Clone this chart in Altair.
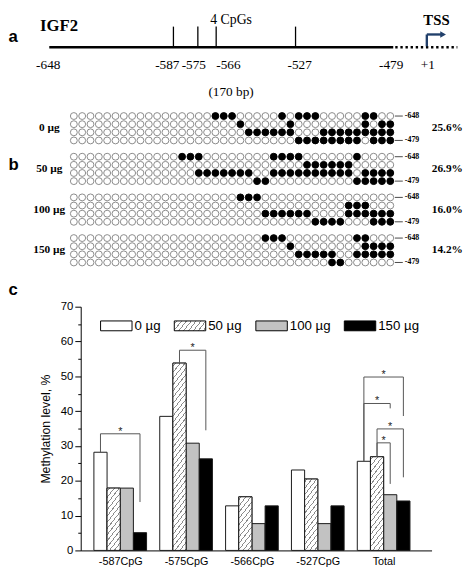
import json
import math
import altair as alt
import pandas as pd

# ------------------------------------------------------------------ data
# panel c: methylation level (%) per CpG site and dose
cpg_labels = ["-587CpG", "-575CpG", "-566CpG", "-527CpG", "Total"]
doses = ["0 µg", "50 µg", "100 µg", "150 µg"]
level_0ug = [28.2, 38.5, 12.8, 23.1, 25.6]
level_50ug = [17.9, 53.8, 15.4, 20.5, 26.9]
level_100ug = [17.9, 30.8, 7.7, 7.7, 16.0]
level_150ug = [5.1, 26.3, 12.8, 12.8, 14.2]

# significance brackets: group, left dose, right dose, top, left end, right end
brk_group = [0, 1, 4, 4, 4, 4]
brk_left = [0, 1, 0, 0, 1, 1]
brk_right = [3, 3, 3, 2, 3, 2]
brk_top = [33.5, 57.5, 49.8, 42.2, 34.9, 30.9]
brk_left_end = [28.2, 53.8, 25.6, 25.6, 26.9, 26.9]
brk_right_end = [13.9, 34.5, 38.6, 40.8, 21.0, 19.1]

# panel a: IGF2 region
region = [-648, -479]
cpg_sites = [-587, -575, -566, -527]
site_labels = ["-648", "-587", "-575", "-566", "-527", "-479", "+1"]
site_label_pos = [-648.5, -590, -577, -560, -525, -480, -462]
upstream_gap = [-478, -447.5]          # dotted part, not to scale
tss_stem, tss_tip = -462.5, -454.5

# panel b: methylated clones (column indices of filled circles), 4 rows per dose
n_clones = 39
methylated = {
    "0 µg": [[17, 18, 19, 25, 27, 28, 29, 35, 36],
             [20, 26, 35, 37, 38],
             [21, 22, 23, 24, 25, 26, 30, 31, 32, 33, 34, 35, 36, 37, 38],
             [27, 28, 29, 30, 31, 32, 33, 34, 36, 37, 38]],
    "50 µg": [[13, 14, 15, 24, 25, 26, 27, 34],
              [28, 29, 30, 31, 32, 33],
              [15, 16, 17, 18, 19, 20, 21, 24, 25, 26, 27, 28, 29, 30, 31, 32, 33, 35, 36, 37, 38],
              [22, 23, 34, 35, 36, 37, 38]],
    "100 µg": [[20, 21, 22],
               [33, 34, 35],
               [23, 24, 25, 26, 27, 28, 33, 34, 35, 36, 37, 38],
               [29, 30, 31, 32, 36, 37, 38]],
    "150 µg": [[23, 24, 25, 34, 35],
               [26, 35, 36, 37, 38],
               [27, 28, 29, 30, 31, 34, 35, 36, 37, 38],
               [31, 32]],
}
overall_pct = ["25.6%", "26.9%", "16.0%", "14.2%"]

# ------------------------------------------------------------------ layout
PLOT_W, PLOT_H = 357, 248
OX, OY = 82, 307          # page position of the bar chart's plot origin


def rx(px):
    return px - OX


def ry(py):
    return py - OY


SERIF = "Liberation Serif"
SANS = "Liberation Sans"
X_DOMAIN = [-0.6, 4.728]
BAR_W = 0.2
PX_X = PLOT_W / (X_DOMAIN[1] - X_DOMAIN[0])
PX_Y = PLOT_H / 70.0


def hatch(w, h, theta=52, spacing=3.9, lw=0.85, col="#8c8c8c"):
    s = math.sin(math.radians(theta))
    c = math.cos(math.radians(theta))
    L = w * s + h * c
    k = L / ((w * s) ** 2 + (h * c) ** 2)
    stops = [{"offset": 0, "color": "#ffffff"}]
    center = spacing / 2
    while center < L:
        a = max(0.0, (center - lw / 2) / L)
        b = min(1.0, (center + lw / 2) / L)
        stops += [{"offset": round(a, 5), "color": "#ffffff"},
                  {"offset": round(a, 5), "color": col},
                  {"offset": round(b, 5), "color": col},
                  {"offset": round(b, 5), "color": "#ffffff"}]
        center += spacing
    stops.append({"offset": 1, "color": "#ffffff"})
    return {"gradient": "linear", "x1": 0, "y1": 0,
            "x2": round(k * w * s, 5), "y2": round(k * h * c, 5), "stops": stops}


layers = []

# ------------------------------------------------------------------ panel c
levels = [level_0ug, level_50ug, level_100ug, level_150ug]
bar_rows = []
for gi, lab in enumerate(cpg_labels):
    for si, dose in enumerate(doses):
        bar_rows.append({"gi": gi, "si": si, "cpg": lab, "dose": dose,
                         "level": levels[si][gi]})
bars_df = pd.DataFrame(bar_rows)

xc = alt.Scale(domain=X_DOMAIN, nice=False, zero=False)
yc = alt.Scale(domain=[0, 70], nice=False)

label_js = "[" + ",".join("'%s'" % l for l in cpg_labels) + "]"
x_axis = alt.Axis(values=list(range(len(cpg_labels))),
                  labelExpr=f"{label_js}[datum.value]", ticks=False, grid=False,
                  title=None, domainColor="black", domainWidth=1, labelFont=SANS,
                  labelFontSize=11, labelColor="black", labelPadding=5,
                  labelFlush=False, labelOverlap=False)
y_axis = alt.Axis(title="Methylation level, %", values=list(range(0, 71, 5)),
                  labelExpr="datum.value % 10 === 0 ? datum.label : ''",
                  tickSize={"condition": {"test": "datum.value % 10 === 0", "value": 6},
                            "value": 3},
                  tickColor="black", domainColor="black", grid=False,
                  labelFont=SANS, labelFontSize=11.5, labelColor="black",
                  labelPadding=2, titleFont=SANS, titleFontSize=12.5,
                  titleFontWeight="normal", titleColor="black", titlePadding=8)

swatch_expr = json.dumps(hatch(32, 10))
legend = alt.Legend(orient="none", legendX=19.7, legendY=3, direction="horizontal",
                    title=None, symbolType="M-1,-0.3125H1V0.3125H-1Z", symbolSize=1024,
                    symbolStrokeColor="black", symbolStrokeWidth=1, symbolOpacity=1,
                    labelFont=SANS, labelFontSize=13.5, labelColor="black",
                    labelOffset=2, columnPadding=11, padding=0, gridAlign="none",
                    labelLimit=0)

xcalc0 = "datum.gi + (datum.si - 2) * %s" % BAR_W
xcalc1 = "datum.gi + (datum.si - 1) * %s" % BAR_W

bars = alt.Chart(bars_df).transform_calculate(x0=xcalc0, x1=xcalc1).mark_bar(
    stroke="#1a1a1a", strokeWidth=1).encode(
    x=alt.X("x0:Q", scale=xc, axis=x_axis),
    x2="x1:Q",
    y=alt.Y("level:Q", scale=yc, axis=y_axis),
    y2=alt.datum(0),
    fill=alt.Fill("dose:N", scale=alt.Scale(
        domain=doses, range=["#ffffff", {"expr": swatch_expr}, "#c2c2c2", "#000000"]),
        legend=legend),
)
layers.append(bars)

hatch_rows = []
for gi, v in enumerate(level_50ug):
    hatch_rows.append({"gi": gi, "si": 1, "level": v,
                       "grad": hatch(BAR_W * PX_X, v * PX_Y)})
hatch_layer = alt.Chart(alt.Data(values=hatch_rows)).transform_calculate(
    x0=xcalc0, x1=xcalc1).mark_bar(stroke="#1a1a1a", strokeWidth=1).encode(
    x=alt.X("x0:Q", scale=xc, axis=None),
    x2="x1:Q",
    y=alt.Y("level:Q", scale=yc, axis=None),
    y2=alt.datum(0),
    fill=alt.Fill(field="grad", type="nominal", scale=None, legend=None),
)
layers.append(hatch_layer)

brk_df = pd.DataFrame({"group": brk_group, "left": brk_left, "right": brk_right,
                       "top": brk_top, "lend": brk_left_end, "rend": brk_right_end})
brk = alt.Chart(brk_df).transform_calculate(
    xl="datum.group + (datum.left - 1.5) * %s" % BAR_W,
    xr="datum.group + (datum.right - 1.5) * %s" % BAR_W,
).transform_calculate(xm="(datum.xl + datum.xr) / 2")
BRK_COL = "#555555"
layers.append(brk.mark_rule(color=BRK_COL, strokeWidth=1).encode(
    x=alt.X("xl:Q", scale=xc, axis=None), y=alt.Y("top:Q", scale=yc, axis=None),
    y2="lend:Q"))
layers.append(brk.mark_rule(color=BRK_COL, strokeWidth=1).encode(
    x=alt.X("xr:Q", scale=xc, axis=None), y=alt.Y("top:Q", scale=yc, axis=None),
    y2="rend:Q"))
layers.append(brk.mark_rule(color=BRK_COL, strokeWidth=1).encode(
    x=alt.X("xl:Q", scale=xc, axis=None), x2="xr:Q",
    y=alt.Y("top:Q", scale=yc, axis=None)))
layers.append(brk.mark_text(text="*", font=SANS, fontSize=11, color="#222222",
                            baseline="alphabetic", dy=1).encode(
    x=alt.X("xm:Q", scale=xc, axis=None), y=alt.Y("top:Q", scale=yc, axis=None)))

# ------------------------------------------------------------------ panel a
xa = alt.Scale(domain=region, range=[rx(50), rx(400)], nice=False, zero=False)
LINE_Y = ry(43)

layers.append(alt.Chart(pd.DataFrame({"s": [region[0]], "e": [region[1]]})).mark_rule(
    color="black", strokeWidth=2.4).encode(
    x=alt.X("s:Q", scale=xa, axis=None), x2="e:Q", y=alt.value(LINE_Y)))
layers.append(alt.Chart(pd.DataFrame({"s": [upstream_gap[0]], "e": [upstream_gap[1]]})).mark_rule(
    color="black", strokeWidth=2.6, strokeDash=[2.4, 2.8]).encode(
    x=alt.X("s:Q", scale=xa, axis=None), x2="e:Q", y=alt.value(LINE_Y)))
layers.append(alt.Chart(pd.DataFrame({"pos": cpg_sites})).mark_rule(
    color="black", strokeWidth=1.3).encode(
    x=alt.X("pos:Q", scale=xa, axis=None), y=alt.value(ry(22)), y2=alt.value(LINE_Y)))
layers.append(alt.Chart(pd.DataFrame({"pos": site_label_pos, "t": site_labels})).mark_text(
    font=SERIF, fontSize=13.5, color="black", baseline="middle").encode(
    x=alt.X("pos:Q", scale=xa, axis=None), y=alt.value(ry(61)), text="t:N"))

ARROW = "#21406b"
tss_df = pd.DataFrame({"stem": [tss_stem], "tip": [tss_tip]})
layers.append(alt.Chart(tss_df).mark_rule(color=ARROW, strokeWidth=2.4).encode(
    x=alt.X("stem:Q", scale=xa, axis=None), y=alt.value(ry(42)), y2=alt.value(ry(30))))
layers.append(alt.Chart(tss_df).mark_rule(color=ARROW, strokeWidth=2.4).encode(
    x=alt.X("stem:Q", scale=xa, axis=None), x2="tip:Q", y=alt.value(ry(30))))
layers.append(alt.Chart(tss_df).mark_point(shape="triangle-right", filled=True, size=45,
                                           color=ARROW, opacity=1).encode(
    x=alt.X("tip:Q", scale=xa, axis=None), y=alt.value(ry(30))))


def label(text, x, y, font=SERIF, size=13.5, weight="normal", align="center",
          baseline="middle"):
    return alt.Chart(pd.DataFrame({"t": [text]})).mark_text(
        font=font, fontSize=size, fontWeight=weight, align=align, baseline=baseline,
        color="black").encode(x=alt.value(x), y=alt.value(y), text="t:N")


layers.append(label("IGF2", rx(60), ry(21.5), size=17, weight="bold"))
layers.append(label("4 CpGs", rx(235), ry(8.5), size=14, baseline="top"))
layers.append(label("TSS", rx(444), ry(15), size=15, weight="bold"))
layers.append(label("(170 bp)", rx(235), ry(89), size=13.5))
layers.append(label("a", rx(8.5), ry(33), font=SANS, size=17, weight="bold", align="left"))
layers.append(label("b", rx(8.5), ry(163), font=SANS, size=17, weight="bold", align="left"))
layers.append(label("c", rx(8.5), ry(290), font=SANS, size=17, weight="bold", align="left"))

# ------------------------------------------------------------------ panel b
col_scale = alt.Scale(domain=[0, n_clones - 1], range=[rx(75), rx(397)], nice=False, zero=False)
row_scale = alt.Scale(domain=[0, 18], range=[ry(113), ry(262)], nice=False, zero=False)

dot_rows = []
for g, dose in enumerate(doses):
    for r in range(4):
        filled = set(methylated[dose][r])
        for c in range(n_clones):
            dot_rows.append({"c": c, "y": 5 * g + r, "m": 1 if c in filled else 0})
dots = alt.Chart(pd.DataFrame(dot_rows))
layers.append(dots.transform_filter("datum.m == 0").mark_point(
    shape="circle", filled=True, size=49, fill="white", stroke="#8a8a8a",
    strokeWidth=1, opacity=1).encode(
    x=alt.X("c:Q", scale=col_scale, axis=None), y=alt.Y("y:Q", scale=row_scale, axis=None)))
layers.append(dots.transform_filter("datum.m == 1").mark_point(
    shape="circle", filled=True, size=49, fill="black", stroke="black",
    strokeWidth=1, opacity=1).encode(
    x=alt.X("c:Q", scale=col_scale, axis=None), y=alt.Y("y:Q", scale=row_scale, axis=None)))

grp_df = pd.DataFrame({"dose": doses, "pct": overall_pct,
                       "y": [5 * g + 1.5 for g in range(4)]})
layers.append(alt.Chart(grp_df).mark_text(
    font=SERIF, fontSize=11.5, fontWeight="bold", color="black", align="center",
    baseline="middle").encode(x=alt.value(rx(50)),
                              y=alt.Y("y:Q", scale=row_scale, axis=None), text="dose:N"))
layers.append(alt.Chart(grp_df).mark_text(
    font=SERIF, fontSize=11.5, fontWeight="bold", color="black", align="center",
    baseline="middle").encode(x=alt.value(rx(455)),
                              y=alt.Y("y:Q", scale=row_scale, axis=None), text="pct:N"))

end_rows = []
for g in range(4):
    end_rows.append({"y": 5 * g, "t": "-648", "a": n_clones - 0.45, "b": n_clones + 0.5,
                     "tx": n_clones + 0.75})
    end_rows.append({"y": 5 * g + 3, "t": "-479", "a": n_clones - 0.45, "b": n_clones + 0.5,
                     "tx": n_clones + 0.75})
end_df = pd.DataFrame(end_rows)
layers.append(alt.Chart(end_df).mark_rule(color="#333333", strokeWidth=0.9).encode(
    x=alt.X("a:Q", scale=col_scale, axis=None), x2="b:Q",
    y=alt.Y("y:Q", scale=row_scale, axis=None)))
layers.append(alt.Chart(end_df).mark_text(
    font=SERIF, fontSize=8, fontWeight="bold", color="black", align="left",
    baseline="middle").encode(x=alt.X("tx:Q", scale=col_scale, axis=None),
                              y=alt.Y("y:Q", scale=row_scale, axis=None), text="t:N"))

# ------------------------------------------------------------------ assemble
chart = alt.layer(*layers).properties(
    width=PLOT_W, height=PLOT_H,
    autosize=alt.AutoSizeParams(type="none"),
    padding={"left": OX - 8, "top": OY - 8, "right": 464 - (OX - 8) - PLOT_W,
             "bottom": 563 - (OY - 8) - PLOT_H},
).resolve_scale(x="independent", y="independent", fill="independent").configure_view(
    stroke=None)

chart.save("out.html", embed_options={"renderer": "svg", "actions": False})
